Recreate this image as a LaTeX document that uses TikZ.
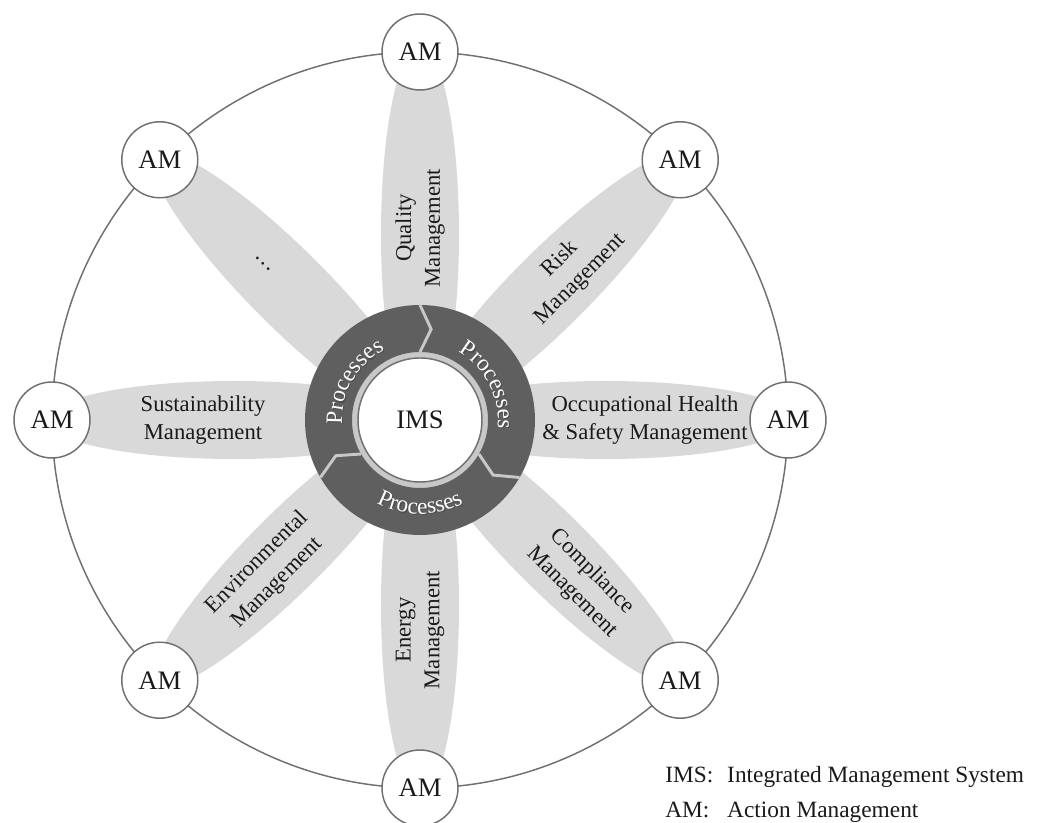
\documentclass[tikz,border=0pt]{standalone}
\usepackage{fontspec}
\setmainfont{Liberation Serif}
\usetikzlibrary{decorations.text}
\definecolor{petalgray}{RGB}{217,217,217}
\definecolor{ringdark}{RGB}{95,95,95}
\definecolor{ringgap}{RGB}{200,200,200}
\definecolor{linegray}{RGB}{112,112,112}
\definecolor{inkblack}{RGB}{26,26,26}
\newcommand{\procfont}{\fontsize{17.5}{20}\selectfont}

\begin{document}
\begin{tikzpicture}[x=0.75pt,y=0.75pt,
    amnode/.style={circle,draw=linegray,line width=1.1pt,fill=white,minimum size=57pt,
      inner sep=0pt,font=\fontsize{20}{24}\selectfont,text=inkblack},
    areatext/.style={align=center,inner sep=0pt,font=\fontsize{17}{21.5}\selectfont,text=inkblack},
    gapline/.style={draw=ringgap,line width=2.2pt,line join=miter}]
  \useasboundingbox (-420,-403) rectangle (619,420);

  % outer cycle and the petals
  \draw[linegray,line width=1.1pt] (0,0) circle[radius=368];
  \foreach \a in {0,45,...,315}
    \fill[petalgray,rotate=\a] (186,0) ellipse[x radius=188,y radius=39];

  \foreach \a [count=\i] in {90,45,0,-45,-90,-135,180,135}
    \node[amnode] (am\i) at (\a:368) {AM};

  % process ring
  \fill[ringgap] (0,0) circle[radius=68];
  \fill[ringdark,even odd rule] (0,0) circle[radius=115] (0,0) circle[radius=68];
  \foreach \s in {90,-30,210}
    \draw[gapline] (\s:68) -- ({\s-7}:91.5) -- (\s:115);
  \node[amnode,minimum size=93pt] (ims) at (0,0) {IMS};

  \foreach \a in {150,27} {
    \path[decorate,decoration={text along path,text align=center,
        text={|\procfont\color{black!70}|Processes}}]
      ([shift={(1,-1.2)}]{\a+45}:78) arc[start angle=\a+45,end angle=\a-45,radius=78];
    \path[decorate,decoration={text along path,text align=center,
        text={|\procfont\color{white}|Processes}}]
      ({\a+45}:78) arc[start angle=\a+45,end angle=\a-45,radius=78];
  }
  \path[decorate,decoration={text along path,text align=center,
      text={|\procfont\color{black!70}|Processes}}]
    ([shift={(1,-1.2)}]-135:94) arc[start angle=-135,end angle=-45,radius=94];
  \path[decorate,decoration={text along path,text align=center,
      text={|\procfont\color{white}|Processes}}]
    (-135:94) arc[start angle=-135,end angle=-45,radius=94];

  % management areas
  \node[areatext,rotate=90] (quality) at (90:192) {Quality\\Management};
  \node[areatext,rotate=45] (risk) at (45:213) {Risk\\Management};
  \node[areatext] (ohs) at (0:225) {Occupational Health\\\& Safety Management};
  \node[areatext,rotate=-45] (compliance) at (-45:229) {Compliance\\Management};
  \node[areatext,rotate=90] (energy) at (-90:210) {Energy\\Management};
  \node[areatext,rotate=45] (environment) at (-135:216) {Environmental\\Management};
  \node[areatext] (sustain) at (180:217) {Sustainability\\Management};
  \node[areatext,rotate=-45] (more) at (135:221) {\ldots};

  \node[anchor=base west,inner sep=0pt,font=\fontsize{17.5}{21}\selectfont,text=inkblack] (legend)
    at (245,-363) {\begin{tabular}[t]{@{}l@{\hspace{10.5pt}}l@{}}
      IMS: & Integrated Management System\\[5.2pt]
      AM: & Action Management
    \end{tabular}};
\end{tikzpicture}
\end{document}
